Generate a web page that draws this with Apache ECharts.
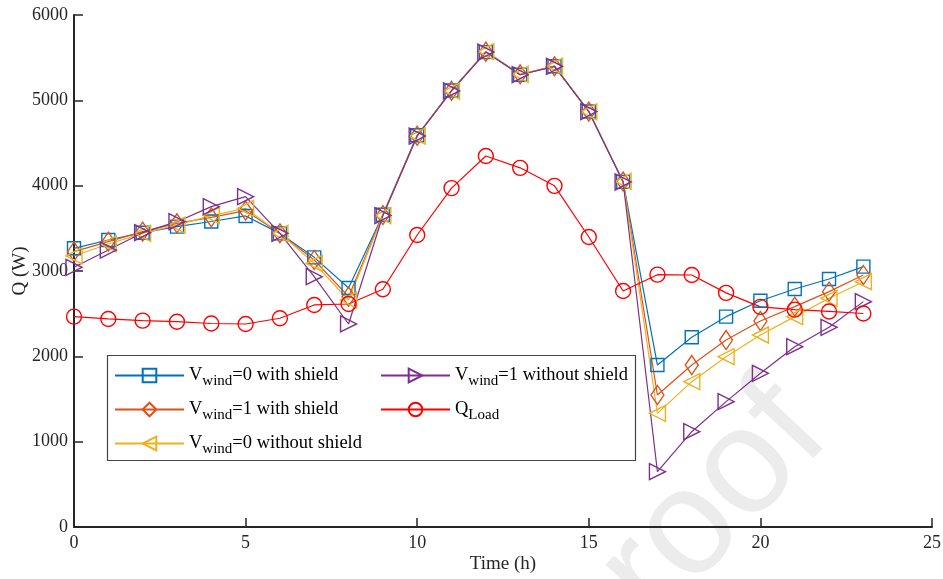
<!DOCTYPE html>
<html>
<head>
<meta charset="utf-8">
<script src="https://cdn.jsdelivr.net/npm/echarts@6/dist/echarts.min.js"></script>
<style>
  html, body { margin: 0; padding: 0; background: #fff; }
  #chart { width: 943px; height: 579px; }
</style>
</head>
<body>
<div id="chart"></div>
<script>
// Hourly heat demand / supply (W) over one day
const hours = [0,1,2,3,4,5,6,7,8,9,10,11,12,13,14,15,16,17,18,19,20,21,22,23];

const wind0Shield = [3266,3363,3449,3520,3580,3645,3441,3160,2800,3660,4590,5115,5565,5300,5400,4870,4045,1898,2223,2465,2652,2789,2906,3051];
const wind1Shield = [3227,3344,3461,3559,3629,3707,3441,3129,2699,3655,4585,5112,5570,5305,5398,4868,4048,1547,1898,2191,2414,2582,2758,2953];
const wind0NoShield = [3176,3317,3441,3539,3649,3735,3441,3090,2660,3650,4580,5108,5572,5305,5400,4865,4050,1332,1703,1996,2250,2465,2680,2875];
const wind1NoShield = [3043,3246,3449,3578,3754,3871,3441,2934,2379,3650,4582,5110,5565,5300,5398,4868,4043,648,1117,1469,1801,2113,2340,2641];
const qLoad = [2465,2438,2418,2406,2385,2379,2446,2602,2613,2786,3422,3971,4348,4209,3998,3398,2766,2957,2953,2744,2580,2547,2526,2502];

const xTicks = { min: 0, max: 25, interval: 5 };
const yTicks = { min: 0, max: 6000, interval: 1000 };

const legendText = {
  wind0s: '{m|V}{s|wind}{m|=0 with shield}',
  wind1s: '{m|V}{s|wind}{m|=1 with shield}',
  wind0n: '{m|V}{s|wind}{m|=0 without shield}',
  wind1n: '{m|V}{s|wind}{m|=1 without shield}',
  load: '{m|Q}{s|Load}'
};

const serif = '"Liberation Serif", "Times New Roman", serif';
const ink = '#262626';

function pairs(vals) { return hours.map((h, i) => [h, vals[i]]); }

function lineSeries(name, vals, color, symbol, size) {
  return {
    name: name,
    type: 'line',
    data: pairs(vals),
    symbol: symbol,
    symbolSize: size,
    showSymbol: true,
    color: color,
    lineStyle: { color: color, width: 1.2 },
    itemStyle: { color: 'rgba(0,0,0,0)', borderColor: color, borderWidth: 1.4 },
    emphasis: { disabled: true },
    animation: false
  };
}

const rightTri = 'path://M0,0 L10,5 L0,10 Z';
const leftTri = 'path://M10,0 L0,5 L10,10 Z';

const legendRich = {
  m: { fontFamily: serif, fontSize: 18.5, color: '#000', lineHeight: 22 },
  s: { fontFamily: serif, fontSize: 15, color: '#000', lineHeight: 22, padding: [12, 0, 0, 0] }
};

function legendBlock(left, names) {
  return {
    orient: 'vertical',
    left: left,
    top: 362,
    padding: 0,
    itemGap: 7,
    itemWidth: 69,
    itemHeight: 17,
    z: 6,
    data: names,
    selectedMode: false,
    formatter: n => legendText[n],
    textStyle: { rich: legendRich }
  };
}

const chart = echarts.init(document.getElementById('chart'), null, { renderer: 'canvas' });

chart.setOption({
  backgroundColor: '#ffffff',
  animation: false,
  grid: { left: 74, right: 11, top: 15, bottom: 52, containLabel: false, outerBoundsMode: 'none' },
  graphic: [
    {
      type: 'text',
      x: 686, y: 534,
      rotation: 0.82,
      z: -10,
      silent: true,
      style: {
        text: 'proof',
        font: '150px "Liberation Sans", Arial, sans-serif',
        fill: '#ececec',
        align: 'center',
        verticalAlign: 'middle'
      }
    },
    {
      type: 'rect',
      z: 3,
      silent: true,
      shape: { x: 107.5, y: 355.5, width: 528, height: 105 },
      style: { fill: '#ffffff', stroke: '#444444', lineWidth: 1.2 }
    }
  ],
  legend: [
    legendBlock(114, ['wind0s', 'wind1s', 'wind0n']),
    legendBlock(380, ['wind1n', 'load'])
  ],
  xAxis: {
    type: 'value',
    min: xTicks.min, max: xTicks.max, interval: xTicks.interval,
    name: 'Time (h)',
    nameLocation: 'middle',
    nameGap: 28,
    nameMoveOverlap: false,
    nameTextStyle: { fontFamily: serif, fontSize: 19, color: ink },
    axisLine: { lineStyle: { color: ink, width: 2 } },
    axisTick: { inside: true, length: 9, lineStyle: { color: ink, width: 1.5 } },
    axisLabel: { fontFamily: serif, fontSize: 18, color: ink, margin: 7, formatter: v => String(v) },
    splitLine: { show: false }
  },
  yAxis: {
    type: 'value',
    min: yTicks.min, max: yTicks.max, interval: yTicks.interval,
    name: 'Q (W)',
    nameLocation: 'middle',
    nameGap: 44,
    nameMoveOverlap: false,
    nameTextStyle: { fontFamily: serif, fontSize: 19, color: ink },
    axisLine: { show: true, lineStyle: { color: ink, width: 2 } },
    axisTick: { show: true, inside: true, length: 9, lineStyle: { color: ink, width: 1.5 } },
    axisLabel: { fontFamily: serif, fontSize: 18, color: ink, margin: 6, formatter: v => String(v) },
    splitLine: { show: false }
  },
  series: [
    lineSeries('wind0s', wind0Shield, '#0072BD', 'rect', 13),
    lineSeries('wind1s', wind1Shield, '#D95319', 'diamond', [13, 19]),
    lineSeries('wind0n', wind0NoShield, '#EDB120', leftTri, 16),
    lineSeries('wind1n', wind1NoShield, '#7E2F8E', rightTri, 16),
    lineSeries('load', qLoad, '#FF0000', 'circle', 15)
  ]
});
</script>
</body>
</html>
